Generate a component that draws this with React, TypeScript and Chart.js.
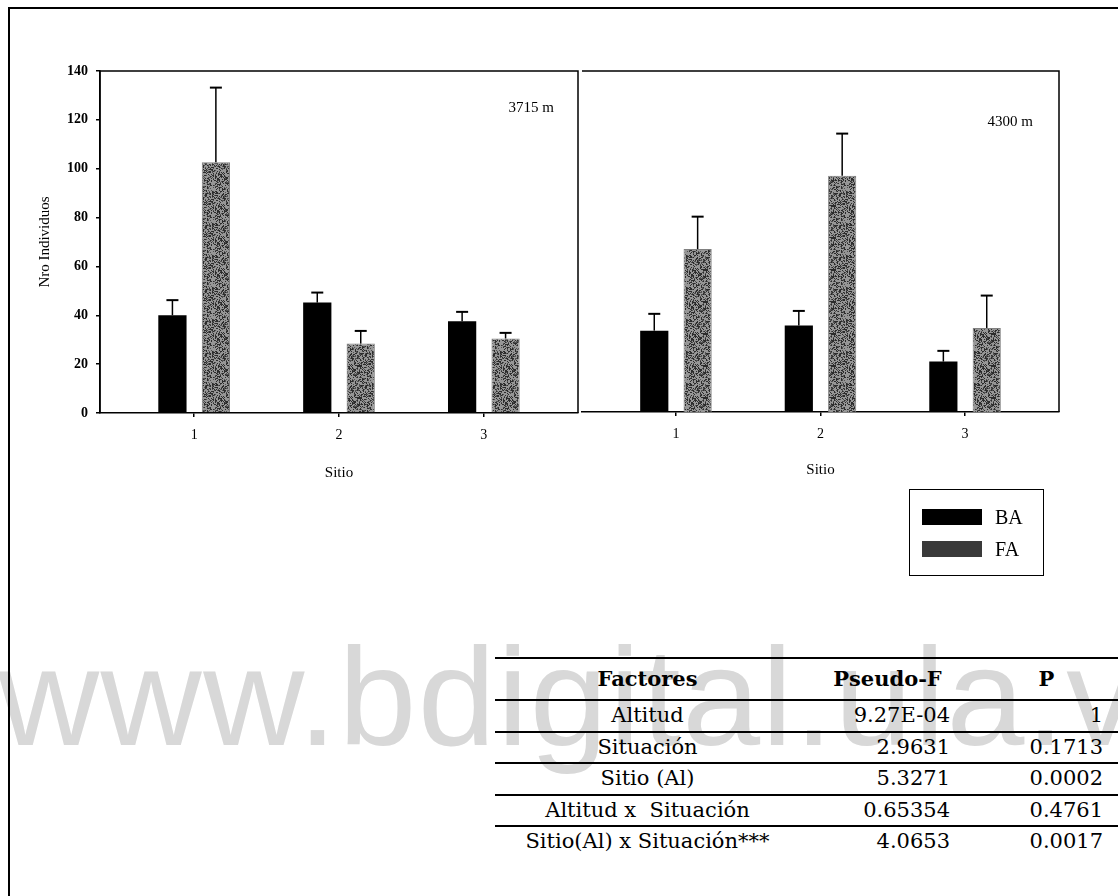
import React, { useEffect, useRef } from 'react';
import { Chart, registerables } from 'chart.js';

Chart.register(...registerables);

// ---------- data ----------
const SITES = ['1', '2', '3'];
const SITE_X = [1, 2, 3];
const SERIES_NAMES = ['BA', 'FA'];

const BA_3715 = [40.0, 45.2, 37.6];
const BA_3715_ERR = [6.2, 4.1, 3.8];
const FA_3715 = [102.6, 28.4, 30.5];
const FA_3715_ERR = [30.6, 5.2, 2.3];

const BA_4300 = [33.4, 35.5, 20.7];
const BA_4300_ERR = [6.9, 6.0, 4.4];
const FA_4300 = [66.9, 97.0, 34.5];
const FA_4300_ERR = [13.3, 17.3, 13.3];

const PANEL_LABELS = ['3715 m', '4300 m'];
const Y_TITLE = 'Nro Individuos';
const X_TITLE = 'Sitio';
const Y_MIN = 0;
const Y_MAX = 140;
const Y_STEP = 20;

const TABLE_HEAD = ['Factores', 'Pseudo-F', 'P'];
const FACTORS = ['Altitud', 'Situación', 'Sitio (Al)', 'Altitud x  Situación', 'Sitio(Al) x Situación***'];
const PSEUDO_F = ['9.27E-04', '2.9631', '5.3271', '0.65354', '4.0653'];
const P_VALUES = ['1', '0.1713', '0.0002', '0.4761', '0.0017'];

const WATERMARK = 'www.bdigital.ula.ve';

// ---------- styles ----------
const SERIF = '"Liberation Serif", "Times New Roman", serif';
const TABLE_FONT = '"DejaVu Serif", serif';

function makeStipple(): CanvasPattern | string {
  const c = document.createElement('canvas');
  c.width = 32;
  c.height = 32;
  const g = c.getContext('2d');
  if (!g) return '#4a4a4a';
  const img = g.createImageData(32, 32);
  for (let i = 0; i < 32 * 32; i++) {
    let h = Math.imul(i + 17, 2654435761) >>> 0;
    h ^= h >>> 15;
    h = Math.imul(h, 2246822519) >>> 0;
    h ^= h >>> 13;
    const r = h % 100;
    const v = r < 13 ? 150 : r < 42 ? 82 : 44;
    img.data[i * 4] = v;
    img.data[i * 4 + 1] = v;
    img.data[i * 4 + 2] = v;
    img.data[i * 4 + 3] = 255;
  }
  g.putImageData(img, 0, 0);
  const ctx = document.createElement('canvas').getContext('2d');
  const p = ctx ? ctx.createPattern(c, 'repeat') : null;
  return p || '#4a4a4a';
}

const errorBarPlugin = {
  id: 'errorBars',
  afterDatasetsDraw(chart: any) {
    const { ctx } = chart;
    const yScale = chart.scales.y;
    ctx.save();
    ctx.strokeStyle = '#000';
    chart.data.datasets.forEach((ds: any, di: number) => {
      const meta = chart.getDatasetMeta(di);
      meta.data.forEach((el: any, j: number) => {
        const v = ds.data[j].y + ds.errors[j];
        const yTop = yScale.getPixelForValue(v);
        ctx.lineWidth = 1.5;
        ctx.beginPath();
        ctx.moveTo(el.x, el.y);
        ctx.lineTo(el.x, yTop);
        ctx.stroke();
        ctx.lineWidth = 2;
        ctx.beginPath();
        ctx.moveTo(el.x - 6, yTop);
        ctx.lineTo(el.x + 6, yTop);
        ctx.stroke();
      });
    });
    ctx.restore();
  },
};

const panelDecorPlugin = {
  id: 'panelDecor',
  afterDraw(chart: any, _args: any, opts: any) {
    const { ctx, chartArea: a } = chart;
    ctx.save();
    ctx.strokeStyle = '#000';
    ctx.lineWidth = 1.5;
    ctx.beginPath();
    if (opts.leftEdge) {
      ctx.moveTo(a.left, a.bottom);
      ctx.lineTo(a.left, a.top);
    } else {
      ctx.moveTo(a.left, a.top);
    }
    ctx.lineTo(a.right, a.top);
    ctx.lineTo(a.right, a.bottom);
    ctx.stroke();
    ctx.fillStyle = '#000';
    ctx.font = `15px ${SERIF}`;
    ctx.textAlign = 'right';
    ctx.textBaseline = 'middle';
    ctx.fillText(opts.label, a.right - opts.labelInset, a.top + opts.labelDrop);
    ctx.restore();
  },
};

type PanelProps = {
  left: number;
  width: number;
  ba: number[];
  baErr: number[];
  fa: number[];
  faErr: number[];
  label: string;
  showY: boolean;
  padLeft: number;
  padRight: number;
  xAxisHeight: number;
  xTitlePad: number;
  labelInset: number;
  labelDrop: number;
};

function Panel(p: PanelProps) {
  const ref = useRef<HTMLCanvasElement | null>(null);
  useEffect(() => {
    if (!ref.current) return;
    const stipple = makeStipple();
    const chart = new Chart(ref.current, {
      type: 'bar',
      data: {
        datasets: [
          {
            label: SERIES_NAMES[0],
            data: SITE_X.map((x, i) => ({ x, y: p.ba[i] })),
            backgroundColor: '#000000',
            borderWidth: 0,
            categoryPercentage: 0.6,
            barPercentage: 0.65,
            errors: p.baErr,
          } as any,
          {
            label: SERIES_NAMES[1],
            data: SITE_X.map((x, i) => ({ x, y: p.fa[i] })),
            backgroundColor: stipple as any,
            borderColor: '#808080',
            borderWidth: 1,
            categoryPercentage: 0.6,
            barPercentage: 0.65,
            errors: p.faErr,
          } as any,
        ],
      },
      options: {
        responsive: false,
        animation: false,
        events: [],
        layout: { padding: { left: p.padLeft, right: p.padRight, top: 71, bottom: 0 } },
        plugins: {
          legend: { display: false },
          tooltip: { enabled: false },
          panelDecor: {
            leftEdge: p.showY,
            label: p.label,
            labelInset: p.labelInset,
            labelDrop: p.labelDrop,
          },
        } as any,
        scales: {
          x: {
            type: 'linear',
            min: 0.35,
            max: 3.65,
            offset: false,
            afterBuildTicks: (scale: any) => {
              scale.ticks = SITE_X.map((v) => ({ value: v }));
            },
            afterFit: (scale: any) => {
              scale.height = p.xAxisHeight;
            },
            ticks: {
              callback: (v: any) => SITES[SITE_X.indexOf(Number(v))] ?? '',
              color: '#000',
              font: { family: SERIF, size: 14 },
              padding: 10,
              maxRotation: 0,
            },
            grid: {
              display: true,
              offset: false,
              drawOnChartArea: false,
              drawTicks: true,
              tickLength: 4,
              color: '#000',
              lineWidth: 1.5,
            },
            border: { display: true, color: '#000', width: 1.5 },
            title: {
              display: true,
              text: X_TITLE,
              color: '#000',
              font: { family: SERIF, size: 15 },
              padding: { top: 0, bottom: p.xTitlePad },
            },
          },
          y: {
            display: p.showY,
            min: Y_MIN,
            max: Y_MAX,
            afterFit: (scale: any) => {
              scale.width = p.showY ? 100 : 0;
            },
            ticks: {
              stepSize: Y_STEP,
              color: '#000',
              font: { family: SERIF, size: 14, weight: 'bold' },
              padding: 8,
            },
            grid: {
              display: true,
              drawOnChartArea: false,
              drawTicks: true,
              tickLength: 4,
              color: '#000',
              lineWidth: 1.5,
            },
            border: { display: true, color: '#000', width: 1.5 },
            title: {
              display: true,
              text: Y_TITLE,
              color: '#000',
              font: { family: SERIF, size: 15 },
              padding: { top: 36, bottom: 0 },
            },
          },
        },
      } as any,
      plugins: [errorBarPlugin, panelDecorPlugin],
    });
    return () => chart.destroy();
  }, []);
  return (
    <canvas
      ref={ref}
      width={p.width}
      height={500}
      style={{ position: 'absolute', left: p.left, top: 0, width: p.width, height: 500 }}
    />
  );
}

export default function App() {
  const colW = [305, 175, 143];
  const rowH = [42, 31.5, 31.5, 31.5, 31.5, 31.5];
  const rows = FACTORS.map((f, i) => [f, PSEUDO_F[i], P_VALUES[i]]);
  return (
    <div
      style={{
        position: 'absolute',
        left: 0,
        top: 0,
        width: 1118,
        height: 896,
        overflow: 'hidden',
        background: '#fff',
      }}
    >
      {/* watermark */}
      <div
        style={{
          position: 'absolute',
          left: -2,
          top: 627,
          fontFamily: '"Liberation Sans", Arial, sans-serif',
          fontSize: 140,
          lineHeight: '140px',
          letterSpacing: 1.5,
          color: '#d8d8d8',
          whiteSpace: 'nowrap',
        }}
      >
        {WATERMARK}
      </div>

      {/* outer frame */}
      <div
        style={{
          position: 'absolute',
          left: 8,
          top: 7,
          width: 1200,
          height: 1000,
          borderLeft: '2px solid #000',
          borderTop: '2px solid #000',
        }}
      />

      <Panel
        left={0}
        width={580}
        ba={BA_3715}
        baErr={BA_3715_ERR}
        fa={FA_3715}
        faErr={FA_3715_ERR}
        label={PANEL_LABELS[0]}
        showY={true}
        padLeft={0}
        padRight={2}
        xAxisHeight={87}
        xTitlePad={18}
        labelInset={24}
        labelDrop={37}
      />
      <Panel
        left={570}
        width={500}
        ba={BA_4300}
        baErr={BA_4300_ERR}
        fa={FA_4300}
        faErr={FA_4300_ERR}
        label={PANEL_LABELS[1]}
        showY={false}
        padLeft={12}
        padRight={11}
        xAxisHeight={88}
        xTitlePad={21}
        labelInset={26}
        labelDrop={51}
      />

      {/* legend */}
      <div
        style={{
          position: 'absolute',
          left: 909,
          top: 489,
          width: 133,
          height: 85,
          border: '1.5px solid #000',
          fontFamily: SERIF,
          fontSize: 20,
          color: '#000',
        }}
      >
        {SERIES_NAMES.map((n, i) => (
          <div
            key={n}
            style={{ position: 'absolute', left: 12, top: 19 + i * 32, height: 16, display: 'flex', alignItems: 'center' }}
          >
            <div style={{ width: 60, height: 16, background: i === 0 ? '#000' : '#3a3a3a' }} />
            <span style={{ marginLeft: 13, lineHeight: '16px' }}>{n}</span>
          </div>
        ))}
      </div>

      {/* table */}
      <div style={{ position: 'absolute', left: 495, top: 657, width: 623, fontFamily: TABLE_FONT, color: '#000' }}>
        {[TABLE_HEAD, ...rows].map((r, ri) => (
          <div
            key={ri}
            style={{ display: 'flex', height: rowH[ri], borderTop: '2px solid #000', boxSizing: 'border-box' }}
          >
            {r.map((cell, ci) => (
              <div
                key={ci}
                style={{
                  width: colW[ci],
                  lineHeight: `${rowH[ri] - 2}px`,
                  fontSize: 21,
                  fontWeight: ri === 0 ? 'bold' : 'normal',
                  textAlign: ci === 0 || ri === 0 ? 'center' : 'right',
                  paddingRight: ri === 0 || ci === 0 ? 0 : ci === 1 ? 25 : 15,
                  boxSizing: 'border-box',
                  whiteSpace: 'pre',
                }}
              >
                {cell}
              </div>
            ))}
          </div>
        ))}
      </div>
    </div>
  );
}
